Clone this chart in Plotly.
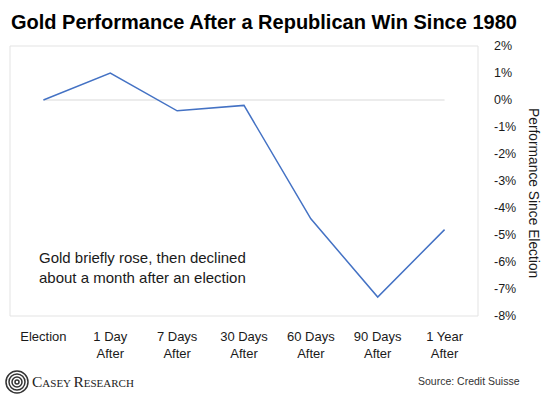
import plotly.graph_objects as go

categories = ["Election", "1 Day<br>After", "7 Days<br>After", "30 Days<br>After",
              "60 Days<br>After", "90 Days<br>After", "1 Year<br>After"]
performance = [0.0, 1.0, -0.4, -0.2, -4.4, -7.3, -4.8]
y_ticks = [2, 1, 0, -1, -2, -3, -4, -5, -6, -7, -8]

W, H = 550, 399
L, R, T, B = 10, 478, 46, 316
SANS = "Liberation Sans, Arial, sans-serif"


def px(xp):
    return (xp - L) / (R - L)


def py(yp):
    return (B - yp) / (B - T)


xs = list(range(len(categories)))

fig = go.Figure()
fig.add_trace(go.Scatter(x=xs, y=performance, mode="lines",
                         line=dict(color="#4472C4", width=1.5),
                         hoverinfo="skip", showlegend=False))

shapes = [
    dict(type="rect", xref="paper", yref="paper", x0=0, x1=1, y0=0, y1=1,
         line=dict(color="#e3e3e3", width=1), layer="below"),
    dict(type="line", xref="x", yref="y", x0=xs[0], x1=xs[-1], y0=0, y1=0,
         line=dict(color="#d9d9d9", width=1), layer="below"),
]
# logo icon: concentric rings
cx, cy = 17, 382
for r in [11, 8, 5, 2]:
    shapes.append(dict(type="circle", xref="paper", yref="paper",
                       x0=px(cx - r), x1=px(cx + r), y0=py(cy + r), y1=py(cy - r),
                       line=dict(color="#333333", width=1.5)))

annotations = [
    dict(text="<b>Gold Performance After a Republican Win Since 1980</b>",
         xref="paper", yref="paper", x=px(9), y=py(22), xanchor="left", yanchor="middle",
         showarrow=False, font=dict(family=SANS, size=20, color="#000000")),
    dict(text="Gold briefly rose, then declined<br>about a month after an election",
         xref="paper", yref="paper", x=px(37), y=py(267), xanchor="left", yanchor="middle",
         align="left", showarrow=False,
         font=dict(family=SANS, size=15, color="#1a1a1a")),
    dict(text="Performance Since Election", textangle=90,
         xref="paper", yref="paper", x=px(534), y=py(193), xanchor="center", yanchor="middle",
         showarrow=False, font=dict(family=SANS, size=13.8, color="#1a1a1a")),
    dict(text="Source: Credit Suisse",
         xref="paper", yref="paper", x=px(522), y=py(381), xanchor="right", yanchor="middle",
         showarrow=False, font=dict(family=SANS, size=10.5, color="#333333")),
    dict(text="<span style='font-size:15.5px'>C</span>ASEY <span style='font-size:15.5px'>R</span>ESEARCH",
         xref="paper", yref="paper", x=px(30), y=py(381), xanchor="left", yanchor="middle",
         showarrow=False, font=dict(family="Liberation Serif, serif", size=11, color="#222222")),
]

fig.update_layout(
    width=W, height=H,
    margin=dict(l=L, r=W - R, t=T, b=H - B),
    paper_bgcolor="white", plot_bgcolor="white",
    shapes=shapes, annotations=annotations,
    xaxis=dict(range=[-0.5, len(categories) - 0.5], tickmode="array", tickvals=xs,
               ticktext=categories, showgrid=False, zeroline=False, showline=False,
               ticks="", ticklabelstandoff=11,
               tickfont=dict(family=SANS, size=13, color="#1a1a1a")),
    yaxis=dict(range=[-8, 2], side="right", tickmode="array", tickvals=y_ticks,
               ticktext=[f"{v}%" for v in y_ticks], showgrid=False, zeroline=False,
               showline=False, ticks="", ticklabelstandoff=15,
               tickfont=dict(family=SANS, size=12.5, color="#1a1a1a")),
)

fig.write_html("out.html", config={"displayModeBar": False},
               post_script="document.body.style.margin='0';")
